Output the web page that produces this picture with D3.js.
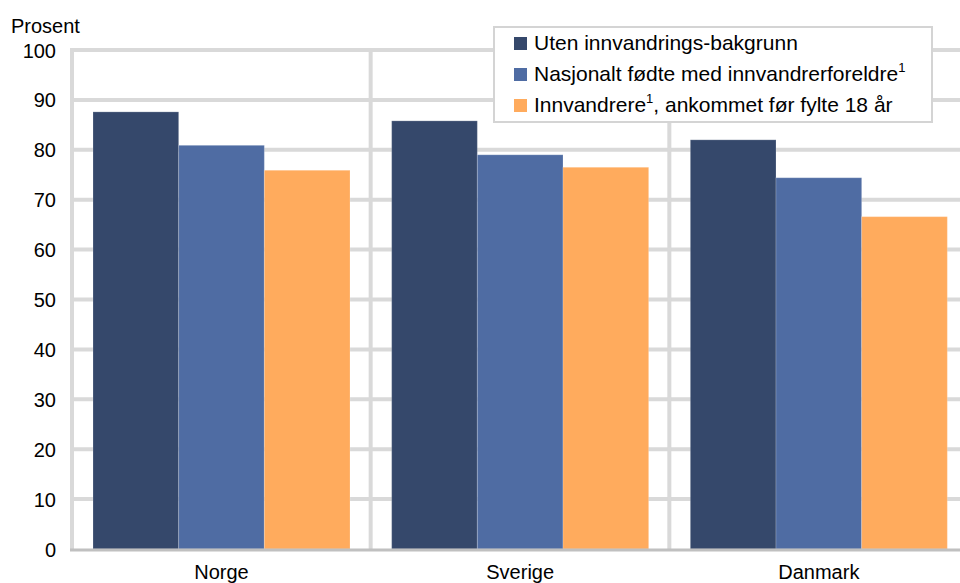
<!DOCTYPE html>
<html>
<head>
<meta charset="utf-8">
<script src="https://cdn.jsdelivr.net/npm/d3@7"></script>
<style>
  html, body { margin: 0; padding: 0; background: #fff; }
  svg { display: block; font-family: "Liberation Sans", Arial, sans-serif; }
</style>
</head>
<body>
<svg id="chart" width="960" height="583"></svg>
<script>
const categories = ["Norge", "Sverige", "Danmark"];
const seriesNames = ["Uten innvandrings-bakgrunn", "Nasjonalt fødte med innvandrerforeldre", "Innvandrere, ankommet før fylte 18 år"];
const utenBakgrunn = [87.6, 85.8, 82.0];
const nasjonaltFodte = [80.9, 79.0, 74.4];
const innvandrere = [75.9, 76.5, 66.6];
const yTicks = [0, 10, 20, 30, 40, 50, 60, 70, 80, 90, 100];
const colors = ["#35486b", "#4f6ca3", "#ffab5d"];

const seriesValues = [utenBakgrunn, nasjonaltFodte, innvandrere];
const data = categories.map((c, i) => ({
  cat: c,
  values: seriesNames.map((s, j) => ({ key: s, idx: j, value: seriesValues[j][i] }))
}));

const svg = d3.select("#chart");
const plotLeft = 72, plotRight = 968, plotTop = 50, plotBottom = 549;

const y = d3.scaleLinear().domain([0, 100]).range([plotBottom, plotTop]);
const x0 = d3.scaleBand().domain(categories).range([plotLeft, plotRight]).padding(0);
const x1 = d3.scaleBand().domain(d3.range(seriesNames.length)).range([21, 278]).padding(0);

const grid = "#d9d9d9";

// horizontal gridlines
svg.append("g").selectAll("line").data(yTicks.filter(d => d > 0)).join("line")
  .attr("x1", plotLeft).attr("x2", 960)
  .attr("y1", d => y(d)).attr("y2", d => y(d))
  .attr("stroke", grid).attr("stroke-width", 4);

// vertical gridlines at category boundaries
const bounds = categories.map(c => x0(c)).concat([x0(categories[categories.length - 1]) + x0.bandwidth()]);
svg.append("g").selectAll("line").data(bounds).join("line")
  .attr("x1", d => d).attr("x2", d => d)
  .attr("y1", y(100) - 2).attr("y2", plotBottom)
  .attr("stroke", grid).attr("stroke-width", 4);

// bars
const groups = svg.append("g").selectAll("g").data(data).join("g")
  .attr("transform", d => `translate(${x0(d.cat)},0)`);
groups.selectAll("rect").data(d => d.values).join("rect")
  .attr("x", d => x1(d.idx))
  .attr("width", x1.bandwidth())
  .attr("y", d => y(d.value))
  .attr("height", d => y(0) - y(d.value))
  .attr("fill", d => colors[d.idx])
  .attr("stroke", "#ffffff").attr("stroke-opacity", 0.2).attr("stroke-width", 1);

// bottom axis line
svg.append("line")
  .attr("x1", plotLeft - 2).attr("x2", 960)
  .attr("y1", plotBottom + 1).attr("y2", plotBottom + 1)
  .attr("stroke", "#c0c0c0").attr("stroke-width", 3);

// y tick labels
const yAxis = d3.axisLeft(y).tickValues(yTicks).tickSize(0).tickPadding(0);
const yg = svg.append("g").attr("transform", `translate(56,0)`).call(yAxis);
yg.select(".domain").remove();
yg.selectAll("text").attr("font-size", 20).attr("fill", "#000")
  .attr("font-family", "Liberation Sans, Arial, sans-serif").attr("dy", "0.35em");

// y title
svg.append("text").attr("x", 11).attr("y", 33).attr("font-size", 20).attr("fill", "#000")
  .text("Prosent");

// x labels
const xAxis = d3.axisBottom(x0).tickSize(0).tickPadding(0);
const xg = svg.append("g").call(xAxis);
xg.select(".domain").remove();
xg.selectAll(".tick").attr("transform", d => `translate(${x0(d) + (21 + 278) / 2},0)`);
xg.selectAll("text").attr("y", 579).attr("dy", null).attr("font-size", 20).attr("fill", "#000")
  .attr("font-family", "Liberation Sans, Arial, sans-serif");

// legend
const lg = svg.append("g");
lg.append("rect").attr("x", 494).attr("y", 27).attr("width", 438).attr("height", 95)
  .attr("fill", "#fff").attr("stroke", "#d4d4d4").attr("stroke-width", 2);
const rowY = [50, 81, 112];
seriesNames.forEach((s, i) => {
  lg.append("rect").attr("x", 514).attr("y", rowY[i] - 13).attr("width", 13).attr("height", 13)
    .attr("fill", colors[i]);
  const t = lg.append("text").attr("x", 534).attr("y", rowY[i]).attr("font-size", 21).attr("fill", "#000");
  if (i === 0) {
    t.text(s);
  } else if (i === 1) {
    t.append("tspan").text("Nasjonalt fødte med innvandrerforeldre");
    t.append("tspan").attr("font-size", 13).attr("dy", -9).text("1");
  } else {
    t.append("tspan").text("Innvandrere");
    t.append("tspan").attr("font-size", 13).attr("dy", -9).text("1");
    t.append("tspan").attr("dy", 9).text(", ankommet før fylte 18 år");
  }
});
</script>
</body>
</html>
